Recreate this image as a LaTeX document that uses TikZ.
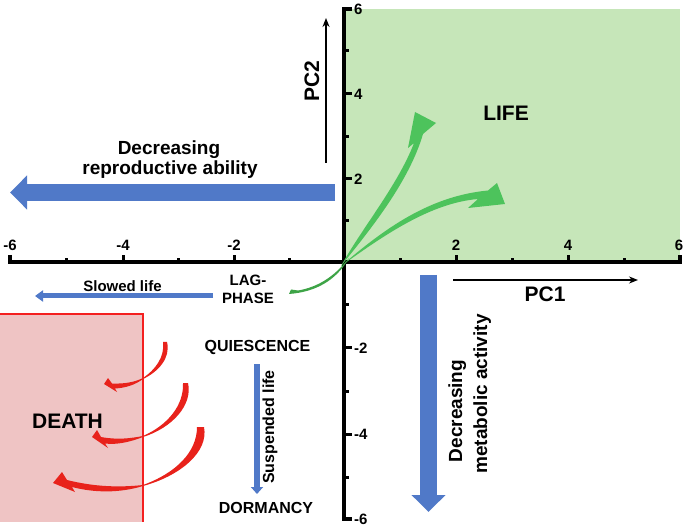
\documentclass[tikz,border=0pt]{standalone}
\usepackage{fontspec}
\setmainfont{Liberation Sans}
\usetikzlibrary{arrows.meta}
\definecolor{lifegreen}{HTML}{C6E6B9}
\definecolor{deathpink}{HTML}{EFC4C4}
\definecolor{deathred}{HTML}{F42020}
\definecolor{arrowblue}{HTML}{5079C8}
\definecolor{arrowgreen}{HTML}{4DC35C}
\definecolor{laggreen}{HTML}{3EA447}
\definecolor{redarrow}{HTML}{E8221B}
\begin{document}
\begin{tikzpicture}[x=1pt,y=-1pt,
  txt/.style={font=\bfseries\fontsize{#1}{#1}\selectfont, inner sep=0pt, align=center},
  axisline/.style={line width=3.5pt, line join=miter},
  tickline/.style={line width=3pt},
  blockarrow/.style={draw=arrowblue, line width=17pt, -{Triangle[length=17pt,width=33pt]}},
  thinblue/.style={draw=arrowblue, line width=5pt, -{Triangle[length=8pt,width=11pt]}},
  pcarrow/.style={draw=black, line width=1.5pt, -{Stealth[length=9pt,width=7pt]}}]
\useasboundingbox (0,0) rectangle (685,526);
% regions
\fill[lifegreen] (346,9) rectangle (680,262);
\fill[deathpink] (0,314) rectangle (143,522);
\draw[deathred, line width=2pt] (0,314) -- (143,314) -- (143,522);
% axes
\draw[axisline] (10,255) -- (10,262) -- (680,262) -- (680,255);
\draw[axisline] (352,9) -- (344,9) -- (344,519) -- (352,519);
\foreach \x in {123,234,456,568} \draw[tickline] (\x,262) -- (\x,255);
\foreach \x in {66,178,289,400,512,624} \draw[tickline] (\x,262) -- (\x,258.5);
\foreach \y in {94,179,348,434} \draw[tickline] (344,\y) -- (352,\y);
\foreach \y in {51,137,221,305,391,477} \draw[tickline] (344,\y) -- (348.5,\y);
% tick labels
\foreach \x/\t in {10/-6,123/-4,234/-2,456/2,568/4,679/6}
  \node[txt=15, anchor=base] (hx\t) at (\x,251) {\t};
\foreach \y/\t in {9/6,94/4,179/2,348/-2,434/-4,519/-6}
  \node[txt=15, anchor=west] (vy\t) at (354,\y) {\t};
% PC arrows
\coordinate (pc1a) at (453,280);
\coordinate (pc1b) at (638,280);
\draw[pcarrow] (pc1a) -- (pc1b);
\node[txt=21] (pc1) at (545,294) {PC1};
\coordinate (pc2a) at (326,163);
\coordinate (pc2b) at (326,18);
\draw[pcarrow] (pc2a) -- (pc2b);
\node[txt=21, rotate=90] (pc2) at (312,81) {PC2};
% blue block arrows
\coordinate (repA) at (335,192.5);
\coordinate (repB) at (10,192.5);
\draw[blockarrow] (repA) -- (repB);
\node[txt=19, anchor=base] (rep1) at (169,155) {Decreasing};
\node[txt=19, anchor=base] (rep2) at (170,175) {reproductive ability};
\coordinate (metA) at (428.5,275);
\coordinate (metB) at (428.5,512);
\draw[blockarrow] (metA) -- (metB);
\node[txt=19, rotate=90, anchor=base] (met1) at (462,411) {Decreasing};
\node[txt=19, rotate=90, anchor=base] (met2) at (487,394) {metabolic activity};
% labels
\node[txt=21] (life) at (506,113.5) {LIFE};
\node[txt=21] (death) at (67.5,421.5) {DEATH};
\node[txt=15] (lag) at (248,289.5) {LAG-\\[3pt]PHASE};
\node[txt=15] (slow) at (122.5,286) {Slowed life};
\coordinate (slowA) at (213,296);
\coordinate (slowB) at (35,296);
\draw[thinblue] (slowA) -- (slowB);
\node[txt=16] (qui) at (257.5,347.5) {QUIESCENCE};
\node[txt=16] (dor) at (266,508) {DORMANCY};
\coordinate (susA) at (257,364);
\coordinate (susB) at (257,494);
\draw[draw=arrowblue, line width=6pt, -{Triangle[length=7pt,width=12pt]}] (susA) -- (susB);
\node[txt=16, rotate=90] (sus) at (270,427) {Suspended life};
% green arrows
\fill[arrowgreen] (341,266) .. controls (362,228) and (398,185) .. (414,143) -- (408,148) -- (415,112) -- (436,123) -- (423,134) .. controls (409,182) and (370,230) .. (341,266) -- cycle;
\fill[arrowgreen] (341,266) .. controls (385,228) and (430,196) .. (488,190.5) -- (497,183) -- (505,204) -- (468,208) -- (478,199) .. controls (430,203) and (383,236) .. (341,266) -- cycle;
\fill[laggreen] (349,258) .. controls (336,281) and (315,292) .. (289,294) -- (291,289.5) -- (298,290.5) .. controls (318,287) and (334,277) .. (349,258) -- cycle;
% red arrows
\fill[redarrow] (167,342) .. controls (171,358) and (158,372) .. (143,379) .. controls (135,385) and (125,388) .. (115,388.5) -- (117,392) -- (104,384) -- (108,378) -- (112,383.5) .. controls (125,384) and (135,382) .. (143,378) .. controls (155,370) and (165,357) .. (163,342) -- cycle;
\fill[redarrow] (188,383) .. controls (193,405) and (172,428) .. (143,437) .. controls (130,442) and (117,445) .. (105,443.5) -- (108,448) -- (92,437) -- (97,430) -- (101,437) .. controls (117,440) and (130,438.5) .. (143,436) .. controls (168,425) and (184,405) .. (183,383) -- cycle;
\fill[redarrow] (204,427) .. controls (209,452) and (180,476) .. (143,486) .. controls (120,493) and (95,493) .. (72,487) -- (75,492) -- (53,483) -- (62,472) -- (67,480) .. controls (95,487) and (120,487.5) .. (143,485) .. controls (176,473) and (197,452) .. (197,427) -- cycle;
\end{tikzpicture}
\end{document}
